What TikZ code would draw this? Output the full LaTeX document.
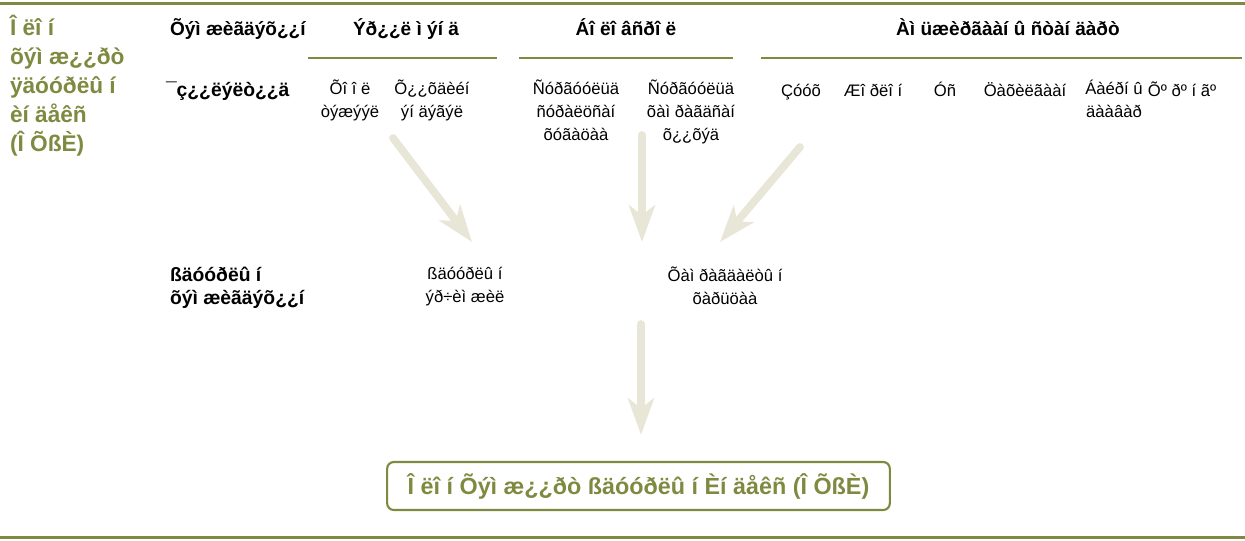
\documentclass[tikz,border=0pt]{standalone}
\usepackage{fontspec}
\setmainfont{Liberation Sans}
\usetikzlibrary{arrows.meta}

\definecolor{olivegrn}{RGB}{127,138,64}
\definecolor{flowgrey}{RGB}{232,230,215}

\begin{document}
\begin{tikzpicture}[x=0.75pt, y=-0.75pt,
  every node/.style={inner sep=0pt, outer sep=0pt},
  title/.style={anchor=north west, align=left, text=olivegrn, font=\fontsize{17}{21.75}\selectfont\bfseries, execute at begin node=\strut},
  hdr/.style={anchor=base, font=\fontsize{14.3}{17}\selectfont\bfseries},
  rowlbl/.style={anchor=north west, align=left, font=\fontsize{14.5}{17.25}\selectfont\bfseries, execute at begin node=\strut},
  cell/.style={anchor=north, align=center, font=\fontsize{12.5}{17.25}\selectfont, execute at begin node=\strut},
  rule/.style={olivegrn, line width=2.4pt},
  uline/.style={olivegrn, line width=2pt},
  flow/.style={flowgrey, line width=5.8pt, line cap=round, -{Stealth[length=27.5pt, width=19.5pt, inset=7.5pt]}}]
\useasboundingbox (0,0) rectangle (1245,540);

% rules
\draw[rule] (0,3.3) -- (1245,3.3);
\draw[rule] (0,537.5) -- (1245,537.5);

% title column
\node[title] (ttl) at (10,15) {Î ëî í\\õýì æ¿¿ðò\\ÿäóóðëû í\\èí äåêñ\\(Î ÕßÈ)};

% headers
\node[hdr, anchor=base west] (hqty) at (170,35) {Õýì æèãäýõ¿¿í};
\node[hdr] (hhealth) at (406,35) {Ýð¿¿ë ì ýí ä};
\node[hdr] (hedu) at (626,35) {Áî ëî âñðî ë};
\node[hdr] (hlife) at (1008,35) {Àì üæèðãààí û ñòàí äàðò};
\draw[uline] (308,58) -- (497,58);
\draw[uline] (519,58) -- (733,58);
\draw[uline] (761,58) -- (1242,58);

% row 1
\node[rowlbl] (r1) at (166,80) {¯ç¿¿ëýëò¿¿ä};
\node[cell] (food) at (350,80) {Õî î ë\\òýæýýë};
\node[cell] (kid) at (432,80) {Õ¿¿õäèéí\\ýí äýãýë};
\node[cell] (school) at (576,80) {Ñóðãóóëüä\\ñóðàëöñàí\\õóãàöàà};
\node[cell] (enrol) at (691,80) {Ñóðãóóëüä\\õàì ðàãäñàí\\õ¿¿õýä};
\node[cell] (fuel) at (801,80) {Çóóõ};
\node[cell] (toilet) at (873,80) {Æî ðëî í};
\node[cell] (water) at (945,80) {Óñ};
\node[cell] (elec) at (1025,80) {Öàõèëãààí};
\node[cell] (floor) at (1114,80) {Áàéðí û\\äààâàð};
\node[cell] (assets) at (1182,80) {Õº ðº í ãº};

% row 2
\node[rowlbl] (r2) at (170,267) {ßäóóðëû í\\õýì æèãäýõ¿¿í};
\node[cell] (depth) at (465,267) {ßäóóðëû í\\ýð÷èì æèë};
\node[cell] (ratio) at (725,267) {Õàì ðàãäàëòû í\\õàðüöàà};

% result
\node[draw=olivegrn, line width=1.6pt, rounded corners=5pt, minimum width=377pt, minimum height=36pt,
      text=olivegrn, font=\fontsize{17.5}{20}\selectfont\bfseries] (mpi) at (638.5,486) {Î ëî í Õýì æ¿¿ðò ßäóóðëû í Èí äåêñ (Î ÕßÈ)};

% arrows
\coordinate (a1s) at (393,138);
\coordinate (a1e) at (472,242);
\coordinate (a2s) at (642,135);
\coordinate (a2e) at (642,242);
\coordinate (a3s) at (800,147);
\coordinate (a3e) at (720,242);
\coordinate (a4s) at (641,324);
\coordinate (a4e) at (641,435);
\draw[flow] (a1s) -- (a1e);
\draw[flow] (a2s) -- (a2e);
\draw[flow] (a3s) -- (a3e);
\draw[flow] (a4s) -- (a4e);
\end{tikzpicture}
\end{document}
